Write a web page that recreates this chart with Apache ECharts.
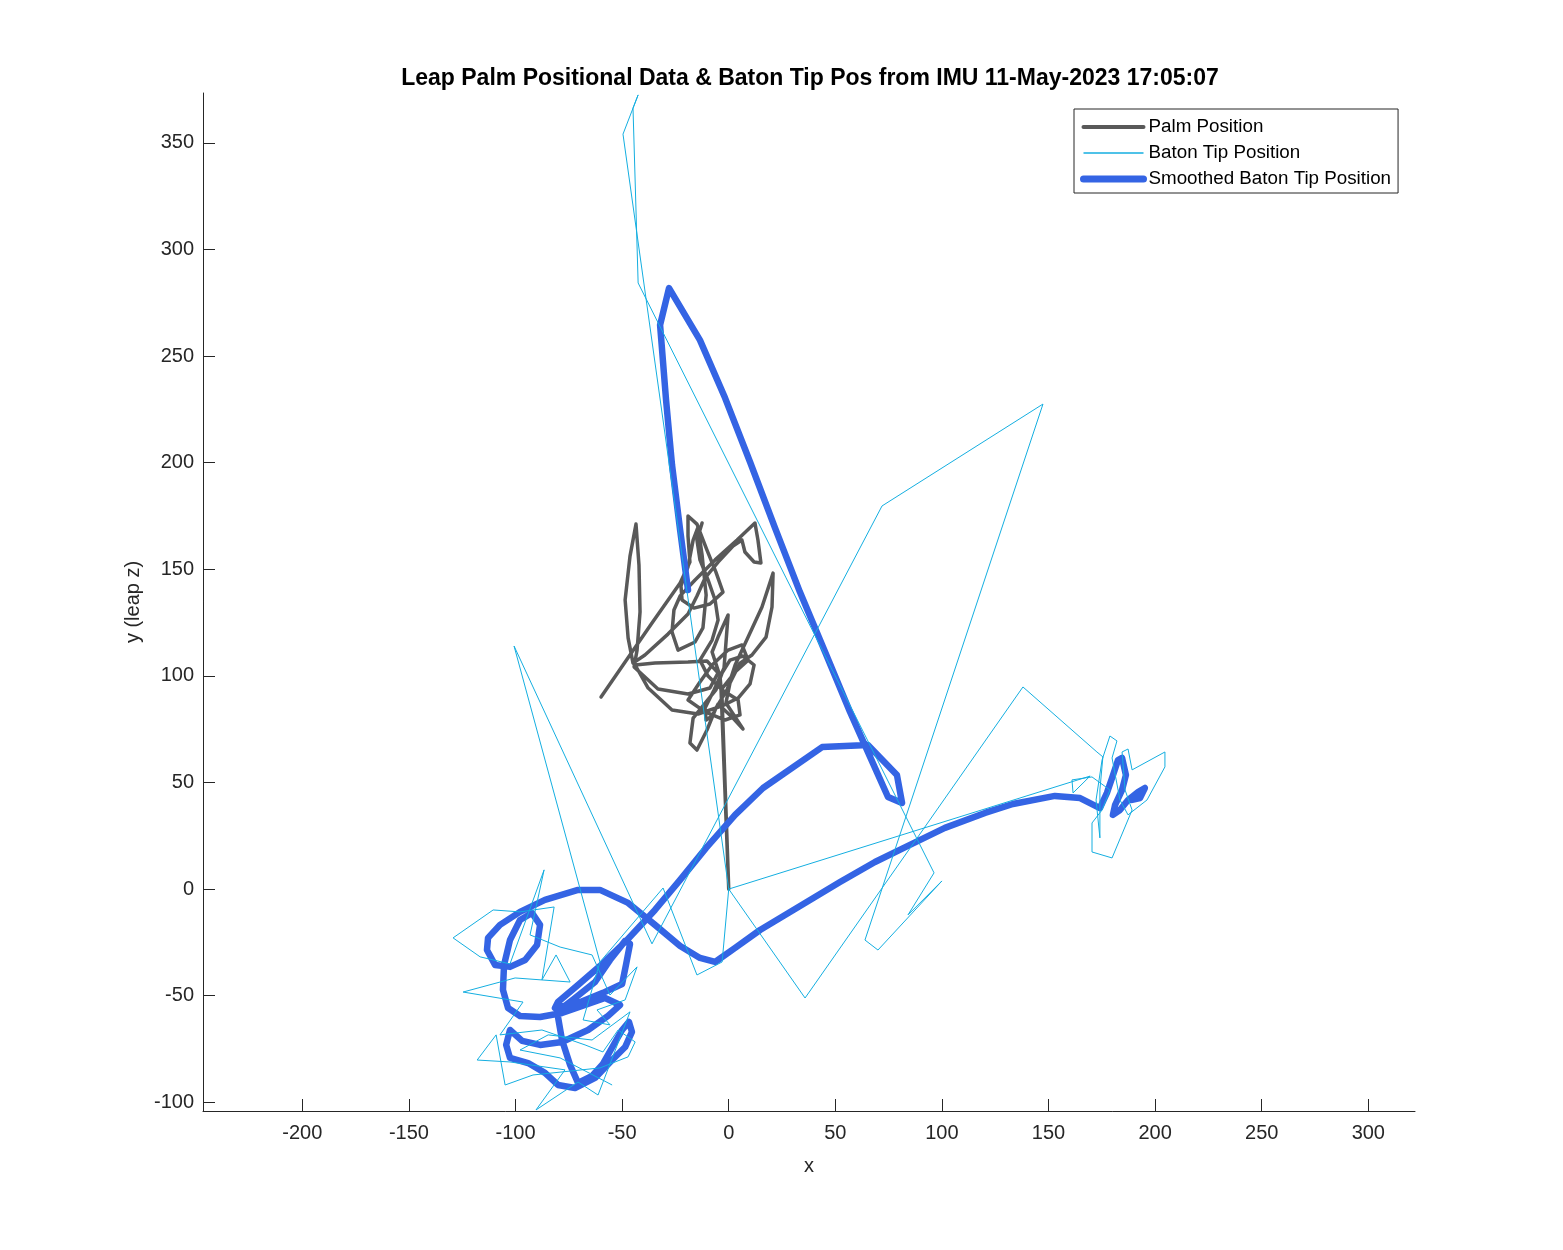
<!DOCTYPE html>
<html><head><meta charset="utf-8">
<script src="https://cdn.jsdelivr.net/npm/echarts@6/dist/echarts.min.js"></script>
<style>html,body{margin:0;padding:0;background:#fff}#main{width:1563px;height:1250px}</style>
</head><body><div id="main"></div>
<script>
const titleText = 'Leap Palm Positional Data & Baton Tip Pos from IMU 11-May-2023 17:05:07';
const seriesNames = ['Palm Position', 'Baton Tip Position', 'Smoothed Baton Tip Position'];
const xTicks = [-200,-150,-100,-50,0,50,100,150,200,250,300];
const yTicks = [-100,-50,0,50,100,150,200,250,300,350];

const palmX = [-59.9,-48.6,-36.0,-22.8,-18.2,-19.1,-19.1,-14.9,-10.2,-6.0,
-2.7,-8.8,-16.3,-21.9,-22.4,-19.1,-16.7,-14.4,-12.5,-10.6,
-12.1,-15.8,-23.8,-26.6,-25.7,-22.8,-15.8,-6.4,3.9,12.3,
13.7,15.1,11.9,7.6,6.2,2.0,-5.0,-11.1,-14.9,-19.1,
-28.5,-39.3,-44.9,-47.2,-48.6,-46.3,-43.5,-42.1,-41.6,-43.0,
-44.4,-33.2,-19.1,-8.8,-5.0,-10.2,-19.1,-34.6,-43.9,-37.8,
-26.6,-14.4,-3.1,4.4,10.0,11.9,6.7,0.6,-3.1,-6.0,
-10.6,-16.7,-18.2,-14.9,-10.2,-6.0,-0.8,3.0,9.1,15.6,
20.8,20.3,17.5,10.9,5.3,0.6,-1.3,6.7,2.0,-5.0,
-7.8,-10.6,-11.1,-6.9,-2.2,-0.3,-5.0,-7.8,-4.1,-3.1,
0,-3.6,3.0,9.1,6.2,-0.3,-7.8,-13.5,-19.1,-11.1,
-1.7,5.3,4.4,-3.1,-9.7,-13.5,-7.8,-5.0,-6.4,-9.7,
-13.5,-14.9,-12.5];
const palmY = [90.1,106.5,124.8,143.6,153.4,165.6,175.0,171.2,159.0,148.7,
139.3,133.7,131.8,135.6,142.2,151.1,163.7,169.8,156.7,137.9,
122.5,115.9,112.1,120.6,130.9,137.5,145.0,154.4,163.7,171.7,
163.7,152.9,153.4,158.1,163.7,160.9,153.4,145.9,137.5,129.0,
119.6,109.8,106.0,117.8,135.6,156.2,171.2,152.0,130.0,112.1,
104.2,93.8,91.5,94.3,101.4,107.0,106.5,106.0,105.1,94.3,
84.0,82.1,85.9,89.6,96.2,105.1,109.3,107.4,101.4,93.4,
87.8,80.2,68.5,65.2,74.6,84.9,93.4,105.1,118.2,132.3,
148.2,132.3,118.2,109.8,106.0,96.7,87.3,75.1,80.2,86.8,
81.2,79.3,84.9,93.4,103.7,128.6,118.2,111.2,99.9,88.7,
0,93.4,101.8,107.4,114.5,112.1,105.1,97.1,88.7,83.1,
79.3,81.7,88.7,93.4,99.9,107.4,116.8,126.2,135.6,145.0,
154.4,163.7,171.7];

const tipX = [-54.7,-79.1,-97.9,-84.7,-64.1,-46.3,
-61.3,-70.7,-90.4,-76.8,-102.6,-118.0,-109.1,-104.9,-91.8,-60.4,
-47.2,-43.9,-51.9,-59.0,-67.4,-87.6,-107.3,-96.5,-124.6,-100.2,
-74.4,-81.0,-87.6,-81.9,-97.9,-110.5,-129.3,-116.6,-102.6,-86.6,
-93.2,-79.1,-64.1,-55.7,-43.0,-48.6,-61.8,-55.7,-68.3,-60.4,
-30.8,-14.9,-3.1,0,35.8,138.0,172.7,175.5,174.1,174.1,
172.3,175.1,178.8,182.1,179.8,183.5,187.3,196.2,204.6,204.6,
189.2,187.3,184.5,185.9,189.2,179.8,170.4,170.4,175.1,178.8,
170.4,161.0,161.5,169.5,0,-49.6,-42.5,-44.9,-42.5,96.3,
84.1,100.0,70.0,63.9,147.4,71.9,-36.0,-100.7,-60.4];
const tipY = [-91.9,-79.2,-75.5,-68.4,-70.8,-57.6,
-96.6,-90.5,-103.6,-84.8,-81.1,-80.2,-68.4,-91.9,-87.2,-83.9,
-78.7,-71.7,-66.1,-76.4,-73.1,-66.1,-68.4,-53.0,-48.3,-41.7,
-43.6,-30.9,-42.6,-8.4,-10.7,-9.8,-22.9,-31.8,-35.1,9.0,
-21.5,-27.2,-30.9,-49.7,-36.5,-52.0,-56.7,-63.7,-61.4,-34.2,
0.5,-40.3,-34.2,0,-51.1,94.8,64.3,62.0,46.5,24.0,
41.8,60.5,71.8,69.5,61.5,41.8,34.8,41.8,57.3,64.3,
55.9,65.7,64.3,46.5,37.1,14.6,17.4,31.0,37.1,46.5,
52.6,51.2,45.1,53.0,0,354.1,372.5,366.3,284.3,7.6,
-12.1,3.8,-28.6,-23.9,227.5,179.7,-25.7,114.0,-34.2];

const smoothX = [-19.1,-22.8,-26.6,-29.4,-32.2,-28.0,-13.5,-1.7,10.0,21.7,
33.4,45.2,56.9,66.3,74.7,81.3,78.9,65.3,43.8,16.1,
3.0,-10.6,-22.8,-34.6,-47.7,-60.4,-70.7,-80.1,-81.5,-70.7,
-59.0,-50.0,-48.2,-46.3,-48.6,-55.7,-62.7,-72.1,-80.5,-78.2,
-74.4,-70.7,-64.1,-59.0,-54.3,-50.0,-46.8,-45.4,-48.6,-54.7,
-62.7,-72.1,-80.1,-86.2,-94.1,-102.6,-104.4,-102.6,-96.9,-88.5,
-78.2,-66.0,-56.6,-51.0,-58.0,-67.4,-78.2,-88.5,-97.9,-103.5,
-105.9,-105.4,-102.6,-97.9,-92.3,-88.5,-89.9,-95.5,-102.6,-109.6,
-113.4,-112.9,-107.3,-97.9,-86.2,-70.7,-60.4,-47.2,-34.6,-22.8,
-13.5,-6.4,3.0,14.7,35.8,52.2,68.6,85.0,101.4,120.2,
133.3,153.0,164.8,174.1,177.4,179.8,182.6,184.5,186.3,184.5,
181.2,180.2,183.5,187.3,192.0,195.2,192.9,189.2];
const smoothY = [140.3,168.4,198.9,229.4,264.6,281.9,257.5,230.3,200.3,169.4,
139.3,111.2,83.1,62.0,43.2,40.4,53.5,67.6,66.6,47.4,
34.8,19.3,4.3,-9.8,-23.9,-36.1,-45.0,-53.0,-55.8,-53.4,
-48.7,-44.5,-35.6,-25.7,-24.3,-33.3,-43.6,-51.1,-57.6,-70.8,
-82.5,-90.9,-87.7,-82.0,-73.6,-66.1,-62.3,-67.0,-74.1,-80.2,
-88.6,-93.3,-91.9,-86.2,-81.6,-79.2,-73.1,-66.1,-71.2,-73.1,
-71.7,-66.1,-59.5,-54.4,-51.1,-54.4,-58.1,-60.0,-59.5,-55.8,
-47.3,-35.6,-23.9,-14.5,-11.2,-16.8,-26.2,-33.3,-36.5,-35.6,
-28.6,-22.9,-16.8,-10.7,-5.1,-0.4,-0.4,-6.5,-16.8,-26.7,
-32.3,-34.2,-27.6,-19.2,-6.5,3.3,12.7,20.7,28.7,35.7,
39.9,43.7,42.7,38.0,45.1,52.1,60.5,61.5,53.5,46.5,
39.4,34.8,37.1,41.8,45.5,47.4,42.7,41.8];

const zip = (xs, ys) => xs.slice(0, Math.min(xs.length, ys.length)).map((x, i) => [x, ys[i]]);
const FONT = '"Liberation Sans", Arial, Helvetica, sans-serif';
const AX = '#262626';
const COLORS = ['#595959', '#14aee0', '#3464e4'];
const WIDTHS = [3.5, 1, 6.5];

const chart = echarts.init(document.getElementById('main'), null, {renderer: 'canvas'});
chart.setOption({
  animation: false,
  backgroundColor: '#ffffff',
  title: {
    text: titleText, left: 805, top: 62, textAlign: 'center',
    textStyle: {fontFamily: FONT, fontSize: 23, fontWeight: 'bold', color: '#000000'}
  },
  legend: {
    data: seriesNames.map((n, i) => ({
      name: n,
      itemStyle: {opacity: 0, color: 'rgba(0,0,0,0)', borderWidth: 0},
      lineStyle: {width: WIDTHS[i] + 0.5, color: COLORS[i], opacity: 1}
    })),
    orient: 'vertical', left: 1074, top: 109,
    padding: [8, 7, 4, 6],
    itemWidth: 60, itemHeight: 14, itemGap: 6,
    borderColor: AX, borderWidth: 1, backgroundColor: '#ffffff',
    selectedMode: false,
    textStyle: {fontFamily: FONT, fontSize: 18.8, color: '#000000', lineHeight: 20}
  },
  grid: {left: 203, right: 148, top: 93, bottom: 139, containLabel: false},
  xAxis: {
    type: 'value', min: -246.6, max: 321.9,
    name: 'x', nameLocation: 'middle', nameGap: 45,
    nameTextStyle: {fontFamily: FONT, fontSize: 20, color: AX},
    axisLine: {onZero: false, lineStyle: {color: AX, width: 1}},
    axisTick: {inside: true, length: 12, customValues: xTicks, lineStyle: {color: AX}},
    axisLabel: {customValues: xTicks, margin: 12, fontFamily: FONT, fontSize: 20, color: AX},
    splitLine: {show: false}
  },
  yAxis: {
    type: 'value', min: -104.1, max: 373.4,
    name: 'y (leap z)', nameLocation: 'middle', nameGap: 53, nameRotate: 90,
    nameTextStyle: {fontFamily: FONT, fontSize: 20, color: AX},
    axisLine: {onZero: false, lineStyle: {color: AX, width: 1}},
    axisTick: {inside: true, length: 12, customValues: yTicks, lineStyle: {color: AX}},
    axisLabel: {customValues: yTicks, margin: 9, fontFamily: FONT, fontSize: 20, color: AX},
    splitLine: {show: false}
  },
  series: [
    {
      name: seriesNames[0], type: 'line', data: zip(palmX, palmY),
      symbol: 'none', showSymbol: false, z: 2, emphasis: {disabled: true},
      lineStyle: {color: COLORS[0], width: WIDTHS[0], join: 'round', cap: 'round'},
      itemStyle: {color: COLORS[0]}
    },
    {
      name: seriesNames[1], type: 'line', data: zip(tipX, tipY),
      symbol: 'none', showSymbol: false, z: 4, emphasis: {disabled: true},
      lineStyle: {color: COLORS[1], width: WIDTHS[1]},
      itemStyle: {color: COLORS[1]}
    },
    {
      name: seriesNames[2], type: 'line', data: zip(smoothX, smoothY),
      symbol: 'none', showSymbol: false, z: 3, emphasis: {disabled: true},
      lineStyle: {color: COLORS[2], width: WIDTHS[2], join: 'round', cap: 'round'},
      itemStyle: {color: COLORS[2]}
    }
  ]
});
</script></body></html>
